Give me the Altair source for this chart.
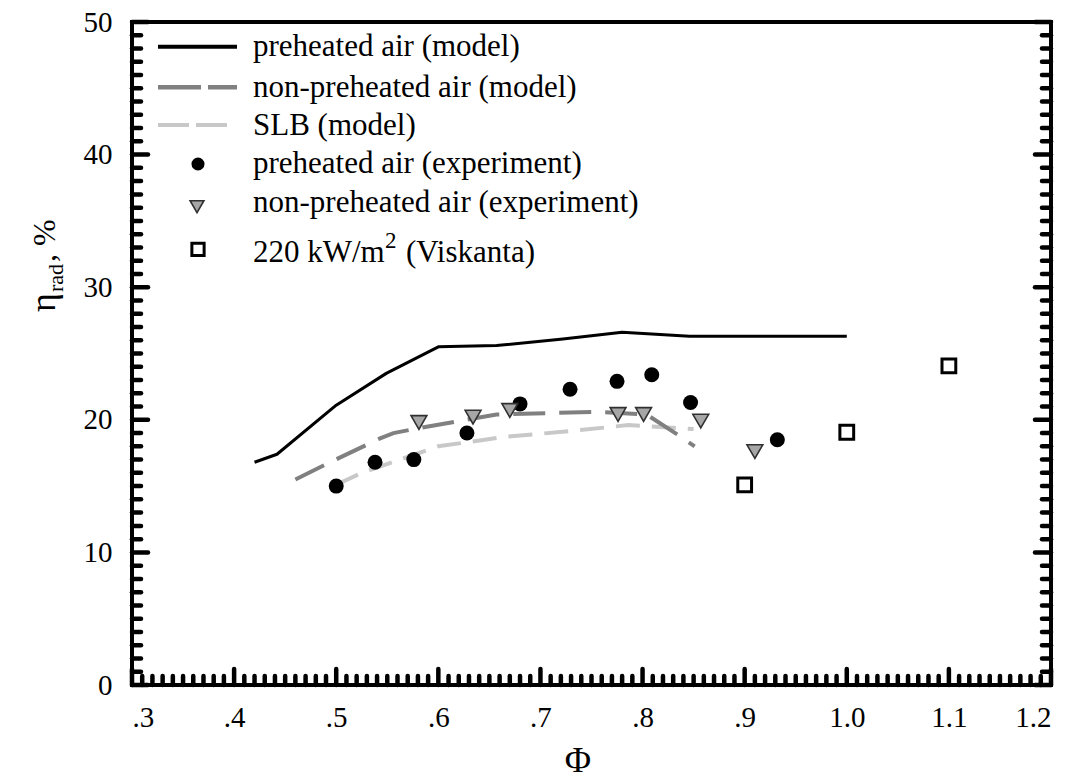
import altair as alt
import pandas as pd
import numpy as np

# ---------------- data ----------------
pre_model_phi = [0.42, 0.442, 0.50, 0.549, 0.60, 0.657, 0.722, 0.78, 0.846, 1.00]
pre_model_eta = [16.8, 17.4, 21.1, 23.5, 25.5, 25.6, 26.1, 26.6, 26.3, 26.3]

non_model_phi = [0.46, 0.494, 0.543, 0.556, 0.59, 0.657, 0.755, 0.804, 0.832, 0.851]
non_model_eta = [15.5, 16.8, 18.6, 19.0, 19.5, 20.4, 20.6, 20.4, 19.0, 18.0]

slb_model_phi = [0.50, 0.525, 0.60, 0.664, 0.736, 0.786, 0.85]
slb_model_eta = [15.1, 16.0, 18.0, 18.7, 19.2, 19.6, 19.3]

pre_exp_phi = [0.50, 0.538, 0.576, 0.628, 0.680, 0.729, 0.775, 0.809, 0.847, 0.932]
pre_exp_eta = [15.0, 16.8, 17.0, 19.0, 21.2, 22.3, 22.9, 23.4, 21.3, 18.5]

non_exp_phi = [0.581, 0.634, 0.670, 0.776, 0.801, 0.857, 0.910]
non_exp_eta = [19.8, 20.2, 20.7, 20.4, 20.4, 19.9, 17.6]

visk_phi = [0.90, 1.00, 1.10]
visk_eta = [15.1, 19.06, 24.06]

x_tick_values = [0.3, 0.4, 0.5, 0.6, 0.7, 0.8, 0.9, 1.0, 1.1, 1.2]
y_tick_values = [0, 10, 20, 30, 40, 50]

legend_labels = [
    "preheated air (model)",
    "non-preheated air (model)",
    "SLB (model)",
    "preheated air (experiment)",
    "non-preheated air (experiment)",
]

# ---------------- layout ----------------
W, H = 919, 663
PL, PT = 132, 22
FONT = "Liberation Serif, Times New Roman, Times, serif"
LFS = 31  # legend font size

xs = alt.Scale(domain=[0.3, 1.2], nice=False, zero=False)
ys = alt.Scale(domain=[0, 50], nice=False, zero=False)

xaxis = alt.Axis(
    values=x_tick_values,
    labelExpr="datum.value < 0.95 ? '.' + format(datum.value * 10, '.0f') : format(datum.value, '.1f')",
    title=None, grid=False, domain=False, ticks=False, tickSize=0,
    labelPadding=18, labelFont=FONT, labelFontSize=29, labelColor="black",
)
yaxis = alt.Axis(
    values=y_tick_values, title=None, grid=False, domain=False, ticks=False, tickSize=0,
    labelPadding=20, labelFont=FONT, labelFontSize=29, labelColor="black",
)

X = alt.X("phi:Q", scale=xs, axis=xaxis)
Y = alt.Y("eta:Q", scale=ys, axis=yaxis)


def df(px, py):
    return pd.DataFrame({"phi": px, "eta": py})


pre_line = alt.Chart(df(pre_model_phi, pre_model_eta)).mark_line(
    color="black", strokeWidth=3, strokeJoin="round"
).encode(x=X, y=Y)

non_line = alt.Chart(df(non_model_phi, non_model_eta)).mark_line(
    color="#808080", strokeWidth=4, strokeDash=[32, 14]
).encode(x=X, y=Y)

slb_line = alt.Chart(df(slb_model_phi, slb_model_eta)).mark_line(
    color="#c8c8c8", strokeWidth=4, strokeDash=[24, 12]
).encode(x=X, y=Y)

pre_pts = alt.Chart(df(pre_exp_phi, pre_exp_eta)).mark_point(
    shape="circle", filled=True, color="black", size=225, opacity=1
).encode(x=X, y=Y)

non_pts = alt.Chart(df(non_exp_phi, non_exp_eta)).mark_point(
    shape="triangle-down", filled=True, fill="#a6a6a6", stroke="#303030",
    strokeWidth=1.6, size=250, opacity=1
).encode(x=X, y=Y)

visk_pts = alt.Chart(df(visk_phi, visk_eta)).mark_point(
    shape="square", filled=True, fill="white", stroke="black",
    strokeWidth=3, size=190, opacity=1
).encode(x=X, y=Y)

# ---------------- inward ticks ----------------
xt = np.round(np.arange(30, 121) / 100.0, 2)
x_major = pd.DataFrame({"phi": [v for i, v in zip(range(30, 121), xt) if i % 10 == 0]})
x_minor = pd.DataFrame({"phi": [v for i, v in zip(range(30, 121), xt) if i % 10 != 0]})
yt = np.arange(0, 51)
y_major = pd.DataFrame({"eta": [int(v) for v in yt if v % 10 == 0]})
y_minor = pd.DataFrame({"eta": [int(v) for v in yt if v % 10 != 0]})

TW = 4.5
MINOR, MAJOR = 9, 16

tick_layers = [
    alt.Chart(x_minor).mark_rule(color="black", strokeWidth=TW, strokeCap="round").encode(
        x=X, y=alt.value(H), y2=alt.value(H - MINOR)),
    alt.Chart(x_major).mark_rule(color="black", strokeWidth=TW, strokeCap="round").encode(
        x=X, y=alt.value(H), y2=alt.value(H - MAJOR)),
    alt.Chart(y_minor).mark_rule(color="black", strokeWidth=TW, strokeCap="round").encode(
        y=Y, x=alt.value(0), x2=alt.value(MINOR)),
    alt.Chart(y_major).mark_rule(color="black", strokeWidth=TW, strokeCap="round").encode(
        y=Y, x=alt.value(0), x2=alt.value(MAJOR)),
    alt.Chart(y_minor).mark_rule(color="black", strokeWidth=TW, strokeCap="round").encode(
        y=Y, x=alt.value(W), x2=alt.value(W - MINOR)),
    alt.Chart(y_major).mark_rule(color="black", strokeWidth=TW, strokeCap="round").encode(
        y=Y, x=alt.value(W), x2=alt.value(W - MAJOR)),
]

one = alt.Data(values=[{"a": 1}])


def txt(s, x, y, size=LFS, align="left", baseline="alphabetic", angle=0):
    return alt.Chart(one).mark_text(
        text=s, font=FONT, fontSize=size, align=align, baseline=baseline,
        angle=angle, color="black"
    ).encode(x=alt.value(x), y=alt.value(y))


# ---------------- legend (plot coordinates) ----------------
sym_y = [46.7 - PT, 87.3 - PT, 125 - PT, 164 - PT, 206.7 - PT, 249.3 - PT]
txt_y = [56 - PT, 96.5 - PT, 135 - PT, 173 - PT, 212 - PT, 262 - PT]
TX = 253 - PL

legend = [
    alt.Chart(one).mark_rule(color="black", strokeWidth=4).encode(
        x=alt.value(158 - PL), x2=alt.value(237 - PL), y=alt.value(sym_y[0])),
    alt.Chart(one).mark_rule(color="#808080", strokeWidth=4.5, strokeDash=[43, 7]).encode(
        x=alt.value(158 - PL), x2=alt.value(237 - PL), y=alt.value(sym_y[1])),
    alt.Chart(one).mark_rule(color="#c8c8c8", strokeWidth=4, strokeDash=[31, 7]).encode(
        x=alt.value(158 - PL), x2=alt.value(227 - PL), y=alt.value(sym_y[2])),
    alt.Chart(one).mark_point(shape="circle", filled=True, color="black", size=170, opacity=1).encode(
        x=alt.value(198 - PL), y=alt.value(sym_y[3])),
    alt.Chart(one).mark_point(shape="triangle-down", filled=True, fill="#a6a6a6", stroke="#303030",
                              strokeWidth=1.6, size=190, opacity=1).encode(
        x=alt.value(197 - PL), y=alt.value(sym_y[4])),
    alt.Chart(one).mark_point(shape="square", filled=True, fill="white", stroke="black",
                              strokeWidth=3, size=150, opacity=1).encode(
        x=alt.value(198 - PL), y=alt.value(sym_y[5])),
]
for lab, ty in zip(legend_labels, txt_y[:5]):
    legend.append(txt(lab, TX, ty))
legend.append(txt("220 kW/m", TX, txt_y[5]))
legend.append(txt("2", 385 - PL, txt_y[5] - 14, size=23))
legend.append(txt("(Viskanta)", 406 - PL, txt_y[5]))

# ---------------- axis titles ----------------
titles = [
    txt("\u03a6", 578 - PL, 772 - PT, size=36, align="center"),
    txt("\u03b7", 55 - PL, 312 - PT, size=36, angle=270),
    txt("rad", 63 - PL, 292 - PT, size=22, angle=270),
    txt(", %", 55 - PL, 262 - PT, size=32, angle=270),
]

chart = alt.layer(
    slb_line, non_line, pre_line, *tick_layers, pre_pts, non_pts, visk_pts, *legend, *titles
).properties(
    width=W, height=H,
    autosize=alt.AutoSizeParams(type="none"),
    padding={"left": PL, "top": PT, "right": 1080 - PL - W, "bottom": 781 - PT - H},
    background="white",
).configure_view(stroke="black", strokeWidth=4)

chart.save("out.html", embed_options={"renderer": "svg", "actions": False})
